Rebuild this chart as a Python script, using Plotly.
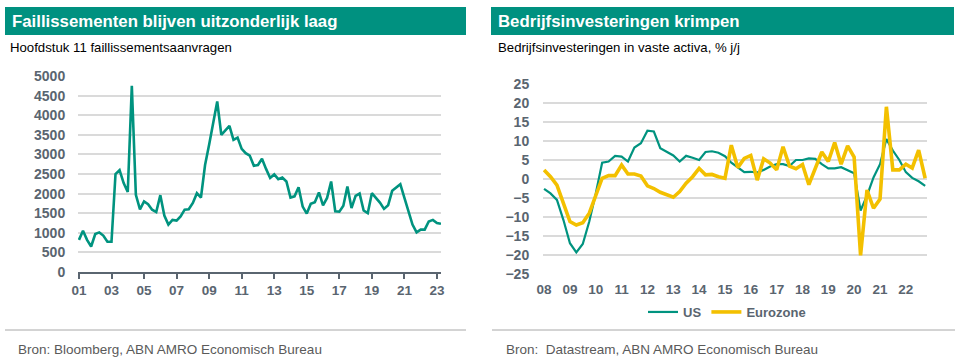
import pandas as pd
import plotly.graph_objects as go

# ---------------- data ----------------
# Left: Chapter 11 bankruptcy filings, quarterly 2001Q1 - 2023Q2
bankruptcy_start = "2001-01-01"
bankruptcies = [
    820, 1050, 820, 650,
    970, 1010, 930, 770,
    770, 2500, 2600, 2270,
    2040, 4750, 1970, 1600,
    1800, 1730, 1590, 1530,
    1960, 1440, 1210, 1330,
    1310, 1420, 1590, 1600,
    1760, 2010, 1900, 2730,
    3250, 3750, 4350, 3500,
    3620, 3730, 3370, 3430,
    3140, 3030, 2970, 2710,
    2730, 2890, 2630, 2400,
    2490, 2370, 2410, 2310,
    1900, 1930, 2160, 1670,
    1490, 1740, 1780, 2030,
    1700, 1890, 2310, 1550,
    1540, 1690, 2180, 1630,
    1940, 2000, 1570, 1500,
    2010, 1900, 1770, 1610,
    1700, 2070, 2160, 2240,
    1890, 1550, 1210, 1010,
    1080, 1080, 1290, 1330,
    1250, 1230,
]

# Right: business investment, % y/y, quarterly 2008Q1 - 2022Q4
invest_start = "2008-01-01"
us_invest = [
    -2.6, -3.8, -5.5, -10.8,
    -16.9, -19.3, -17.1, -11.2,
    -3.8, 4.3, 4.6, 6.1,
    5.9, 4.6, 8.3, 9.4,
    12.7, 12.5, 8.1, 7.2,
    6.2, 4.6, 6.1, 5.6,
    5.0, 7.1, 7.3, 6.9,
    6.0, 4.3, 3.0, 1.8,
    1.9, 1.7, 2.4, 3.3,
    3.9, 3.9, 3.4, 5.0,
    5.0, 5.4, 5.3, 3.9,
    2.8, 2.8, 3.1, 2.4,
    1.5, -8.3, -4.4, 0.4,
    3.9, 10.5, 7.5, 5.0,
    1.8, 0.3, -0.6, -1.8,
]
ez_invest = [
    2.4, 0.6, -1.6, -6.4,
    -11.2, -12.1, -11.5, -9.0,
    -4.2, 0.2, 0.9, 0.9,
    3.7, 1.3, 1.3, 0.8,
    -1.8, -2.5, -3.5, -4.2,
    -4.8, -3.3, -1.1, 0.6,
    2.8, 1.1, 1.2, 0.6,
    0.2, 8.9, 3.0, 5.4,
    6.2, -0.3, 5.3, 4.2,
    2.4, 8.5, 3.4, 2.7,
    3.8, -1.5, 2.6, 7.1,
    4.6, 9.6, 3.9, 8.7,
    5.8, -20.1, -2.9, -7.7,
    -5.3, 19.0, 2.4, 2.4,
    3.9, 2.9, 7.6, 0.2,
]

left_title = "Faillissementen blijven uitzonderlijk laag"
left_sub = "Hoofdstuk 11 faillissementsaanvragen"
left_src = "Bron: Bloomberg, ABN AMRO Economisch Bureau"
right_title = "Bedrijfsinvesteringen krimpen"
right_sub = "Bedrijfsinvesteringen in vaste activa, % j/j"
right_src = "Bron:  Datastream, ABN AMRO Economisch Bureau"
series_names = ["US", "Eurozone"]

# ---------------- style ----------------
W, H = 959, 364
TEAL = "#00937f"
HEAD = "#009180"
YELLOW = "#f3c000"
AXC = "#5a6570"
GRID = "#dadada"
FONT = "Liberation Sans"

def px(x):
    return x / W

def py(y):
    return 1 - y / H

x_left = pd.date_range(bankruptcy_start, periods=len(bankruptcies), freq="QS")
x_right = pd.date_range(invest_start, periods=len(us_invest), freq="QS")

fig = go.Figure()
fig.add_trace(go.Scatter(x=x_left, y=bankruptcies, mode="lines",
                         line=dict(color=TEAL, width=2.6), showlegend=False,
                         xaxis="x", yaxis="y"))
fig.add_trace(go.Scatter(x=x_right, y=us_invest, mode="lines", name=series_names[0],
                         line=dict(color=TEAL, width=2.2), xaxis="x2", yaxis="y2"))
fig.add_trace(go.Scatter(x=x_right, y=ez_invest, mode="lines", name=series_names[1],
                         line=dict(color=YELLOW, width=3.6), xaxis="x2", yaxis="y2"))

tickfont_y = dict(family=FONT, size=14, color=AXC, weight="bold")
tickfont_x = dict(family=FONT, size=13.5, color=AXC, weight="bold")

ly0, ly1 = py(272), py(76)
ry0, ry1 = py(274), py(84)

fig.update_layout(
    template="none",
    width=W, height=H,
    margin=dict(l=0, r=0, t=0, b=0, pad=0, autoexpand=False),
    paper_bgcolor="white", plot_bgcolor="white",
    showlegend=True,
    legend=dict(orientation="h", x=px(727), xanchor="center", y=py(312), yanchor="middle",
                font=dict(family=FONT, size=13, color=AXC, weight="bold"),
                itemwidth=30, tracegroupgap=0, bgcolor="rgba(0,0,0,0)"),
    xaxis=dict(domain=[px(78), px(441)], anchor="y", automargin=False,
               range=["2000-12-10", "2023-04-02"],
               tick0="2001-01-01", dtick="M24", tickformat="%y",
               showgrid=False, showline=True, linecolor=AXC, linewidth=2,
               ticks="outside", ticklen=5, tickwidth=2, tickcolor=AXC,
               tickfont=tickfont_x, zeroline=False),
    yaxis=dict(domain=[ly0, ly1], anchor="x", range=[0, 5000], automargin=False,
               tick0=0, dtick=500, showgrid=True, gridcolor=GRID, gridwidth=1.5,
               showline=False, zeroline=False,
               ticks="outside", ticklen=9, tickcolor="rgba(0,0,0,0)",
               tickfont=tickfont_y),
    xaxis2=dict(domain=[px(543), px(927)], anchor="y2", automargin=False,
                range=["2007-12-17", "2022-10-27"],
                tick0="2008-01-01", dtick="M12", tickformat="%y",
                showgrid=False, showline=False, zeroline=False,
                ticks="outside", ticklen=3, tickcolor="rgba(0,0,0,0)",
                tickfont=tickfont_x),
    xaxis3=dict(overlaying="x2", anchor="free", automargin=False,
                position=ry0 + (ry1 - ry0) * 0.5,
                range=["2007-12-17", "2022-10-27"],
                tick0="2008-01-01", dtick="M12",
                showgrid=False, showline=True, linecolor=AXC, linewidth=2,
                ticks="outside", ticklen=4, tickwidth=2, tickcolor=AXC,
                showticklabels=False, zeroline=False, layer="below traces"),
    yaxis2=dict(domain=[ry0, ry1], anchor="x2", range=[-25, 25], automargin=False,
                tick0=-25, dtick=5, showgrid=True, gridcolor=GRID, gridwidth=1.5,
                showline=False, zeroline=False,
                ticks="outside", ticklen=10, tickcolor="rgba(0,0,0,0)",
                tickfont=tickfont_y),
)

# headers, separators
shapes = [
    dict(type="rect", xref="paper", yref="paper", x0=px(5), x1=px(466), y0=py(35), y1=py(7),
         fillcolor=HEAD, line=dict(width=0), layer="below"),
    dict(type="rect", xref="paper", yref="paper", x0=px(491), x1=px(954), y0=py(35), y1=py(7),
         fillcolor=HEAD, line=dict(width=0), layer="below"),
    dict(type="line", xref="paper", yref="paper", x0=px(5), x1=px(466), y0=py(330), y1=py(330),
         line=dict(color="#a8a8a8", width=1)),
    dict(type="line", xref="paper", yref="paper", x0=px(492), x1=px(955), y0=py(330), y1=py(330),
         line=dict(color="#a8a8a8", width=1)),
]
fig.update_layout(shapes=shapes)

def ann(text, x, y, size, color, bold=False):
    return dict(text=text, xref="paper", yref="paper", x=px(x), y=py(y),
                xanchor="left", yanchor="middle", showarrow=False,
                font=dict(family=FONT, size=size, color=color,
                          weight="bold" if bold else "normal"))

fig.update_layout(annotations=[
    ann(left_title, 10, 21, 16.8, "white", True),
    ann(right_title, 496, 21, 16.8, "white", True),
    ann(left_sub, 8, 48, 13.2, "black"),
    ann(right_sub, 496, 48, 13.2, "black"),
    ann(left_src, 16, 349, 13.5, "#5a5a5a"),
    ann(right_src, 504, 349, 13.5, "#5a5a5a"),
])

fig.write_html("out.html",
               config={"displayModeBar": False},
               post_script="document.body.style.margin='0px';document.body.style.overflow='hidden';")
